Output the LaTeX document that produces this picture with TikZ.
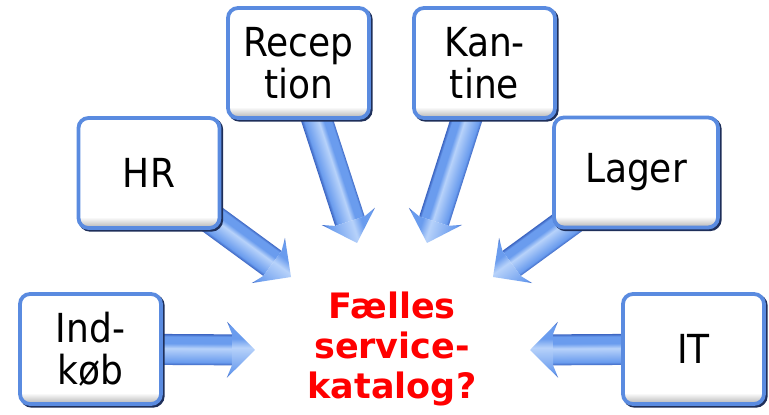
\documentclass[tikz,border=0pt]{standalone}
\usepackage{fontspec}
\setmainfont{DejaVu Sans Condensed}
\newfontfamily\headfont{DejaVu Sans}
\usetikzlibrary{shadows}

\definecolor{boxblue}{HTML}{5A8BE0}
\definecolor{boxshadow}{HTML}{1E2F5A}
\definecolor{arrowdark}{HTML}{3D66C2}
\definecolor{arrowmid}{HTML}{6A9CEE}
\definecolor{arrowlight}{HTML}{B7D2FA}
\definecolor{headred}{HTML}{FF0000}

% cylinder-like shading across the arrow body (bottom 25bp .. top 75bp)
\pgfdeclareverticalshading{shaftshade}{100bp}{%
  color(0bp)=(arrowdark); color(25bp)=(arrowdark); color(30bp)=(arrowmid);
  color(52bp)=(arrowlight); color(60bp)=(arrowmid); color(71bp)=(arrowmid);
  color(75bp)=(arrowdark); color(100bp)=(arrowdark)}
% white box face with a grey rim at the bottom
\pgfdeclareverticalshading{boxshade}{100bp}{%
  color(0bp)=(black!30); color(25bp)=(black!30); color(30bp)=(white);
  color(100bp)=(white)}

\pgfdeclarelayer{background}
\pgfdeclarelayer{paper}
\pgfsetlayers{paper,background,main}

\tikzset{
  deptbox/.style={rectangle, rounded corners=10pt, draw=boxblue, line width=3.8pt,
    shade, shading=boxshade, minimum width=141pt, minimum height=110pt,
    align=center, inner sep=0pt, font=\fontsize{40}{42}\selectfont,
    general shadow={shadow xshift=1.8pt, shadow yshift=-1.8pt,
      draw=boxshadow, fill=boxshadow, line width=3.8pt}},
  hubtext/.style={font=\headfont\bfseries\fontsize{35}{40}\selectfont,
    text=headred, align=center, inner sep=0pt}
}

% block arrow from the centre of node #1 to the point #2
\newcommand\flowarrow[2]{%
  \pgfpointanchor{#1}{center}\pgfgetlastxy{\fax}{\fay}%
  \pgfpointanchor{#2}{center}\pgfgetlastxy{\fbx}{\fby}%
  \pgfmathsetmacro\farang{atan2(\fby-\fay,\fbx-\fax)}%
  \pgfmathsetmacro\farlen{veclen(\fbx-\fax,\fby-\fay)}%
  \pgfmathsetmacro\farflip{ifthenelse(abs(\farang)>90,-1,1)}%
  \begin{scope}[transform canvas={shift={(\fax,\fay)},rotate=\farang,yscale=\farflip}]
    \shade[shading=shaftshade] (0pt,-15.5pt) rectangle (\farlen pt-23pt,15.5pt);
    \shade[shading=shaftshade] (\farlen pt-23pt,15.5pt) -- (\farlen pt-28pt,28pt)
      -- (\farlen pt,0pt) -- (\farlen pt-28pt,-28pt) -- (\farlen pt-23pt,-15.5pt) -- cycle;
  \end{scope}}

\begin{document}
\begin{tikzpicture}[x=1pt,y=-1pt]
  \begin{pgfonlayer}{paper}
    \fill[white] (0,0) rectangle (769,415);
  \end{pgfonlayer}
  \useasboundingbox (0,0) rectangle (769,415);

  % department boxes
  \node[deptbox] (indkob)  at (90.5,349) {Ind-\\køb};
  \node[deptbox] (hr)      at (149,173)  {HR};
  \node[deptbox] (recep)   at (298.5,63) {Recep\\tion};
  \node[deptbox] (kantine) at (484.5,63) {Kan-\\tine};
  \node[deptbox, minimum width=164pt] (lager) at (636,172.5) {Lager};
  \node[deptbox] (it)      at (693.5,349) {IT};

  % central question
  \node[hubtext] (hub) at (392,349) {Fælles\\service-\\katalog?};

  % arrow tips around the question
  \coordinate (tipindkob)  at (255,350);
  \coordinate (tiphr)      at (291,277);
  \coordinate (tiprecep)   at (357,243);
  \coordinate (tipkantine) at (427,243);
  \coordinate (tiplager)   at (493,277);
  \coordinate (tipit)      at (530,350);

  \begin{pgfonlayer}{background}
    \flowarrow{indkob}{tipindkob}
    \flowarrow{hr}{tiphr}
    \flowarrow{recep}{tiprecep}
    \flowarrow{kantine}{tipkantine}
    \flowarrow{lager}{tiplager}
    \flowarrow{it}{tipit}
  \end{pgfonlayer}
\end{tikzpicture}
\end{document}
